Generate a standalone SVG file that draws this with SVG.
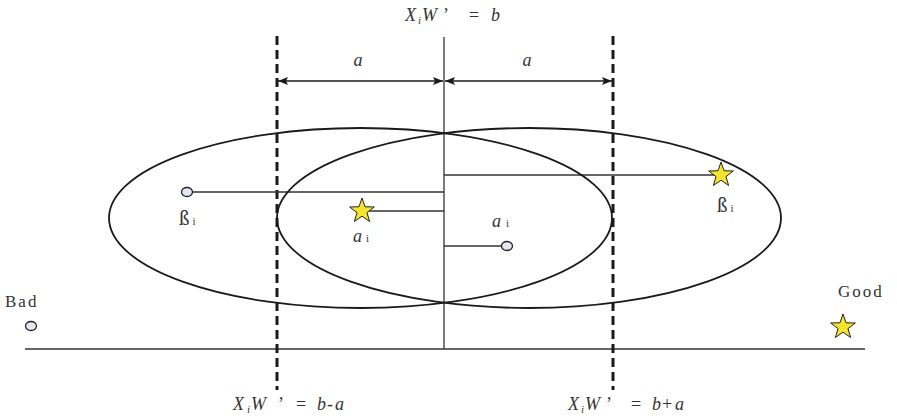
<svg xmlns="http://www.w3.org/2000/svg" width="897" height="419" viewBox="0 0 897 419">
<style>
.ln{stroke:#333;stroke-width:1.3;fill:none}
.ell{stroke:#1a1a1a;stroke-width:1.8;fill:none}
.dash{stroke:#1a1a1a;stroke-width:3;stroke-dasharray:9 5;fill:none}
.arr{stroke:#1a1a1a;stroke-width:1.3;fill:none;marker-start:url(#ah);marker-end:url(#ah)}
.t{font-family:"Liberation Serif",serif;font-size:18px;fill:#333}
.it{font-style:italic}
.beta{font-size:21px}
.lbl{font-family:"Liberation Serif",serif;font-size:17px;fill:#333;letter-spacing:2px}
.sub{font-size:11px}
.pt{fill:#e3e8f3;stroke:#222;stroke-width:1.3}
.star{fill:#f4e42c;stroke:#222;stroke-width:1}
</style>
<defs>
<marker id="ah" viewBox="0 0 10 8" refX="10" refY="4" markerWidth="10" markerHeight="8" markerUnits="userSpaceOnUse" orient="auto-start-reverse">
<path d="M0,0 L10,4 L0,8 L2,4 Z" fill="#1a1a1a"/>
</marker>
<path id="starP" d="M0,-13 L3.06,-4.21 L12.36,-4.02 L4.95,1.61 L7.64,10.52 L0,5.2 L-7.64,10.52 L-4.95,1.61 L-12.36,-4.02 L-3.06,-4.21 Z"/>
</defs>
<g id="connectors">
<line class="ln" x1="25" y1="349" x2="865" y2="349"/>
<line class="ln" x1="444" y1="37" x2="444" y2="349"/>
<line class="dash" x1="277" y1="36" x2="277" y2="390"/>
<line class="dash" x1="613" y1="36" x2="613" y2="390"/>
<line class="arr" x1="443" y1="81" x2="278" y2="81"/>
<line class="arr" x1="445" y1="81" x2="612" y2="81"/>
<line class="ln" x1="192" y1="192" x2="444" y2="192"/>
<line class="ln" x1="362" y1="211" x2="444" y2="211"/>
<line class="ln" x1="444" y1="246" x2="502" y2="246"/>
<line class="ln" x1="444" y1="175" x2="720" y2="175"/>
</g>
<g id="ellipse-left"><ellipse class="ell" cx="360.5" cy="218" rx="251.5" ry="90"/></g>
<g id="ellipse-right"><ellipse class="ell" cx="529" cy="218" rx="252" ry="90"/></g>
<g id="label-top"><text class="t" y="21"><tspan class="it" x="405">X</tspan><tspan class="it sub" x="418" y="24">i</tspan><tspan class="it" x="422" y="21">W</tspan><tspan x="443">’</tspan><tspan x="469">=</tspan><tspan class="it" x="491">b</tspan></text></g>
<g id="label-a-left"><text class="t it" x="358" y="66" text-anchor="middle">a</text></g>
<g id="label-a-right"><text class="t it" x="527" y="66" text-anchor="middle">a</text></g>
<g id="node-beta-left"><ellipse class="pt" cx="187" cy="192" rx="5.5" ry="4.5"/><text class="t" x="179" y="225"><tspan class="beta">ß</tspan><tspan class="sub" dx="3">i</tspan></text></g>
<g id="node-alpha-star"><use href="#starP" class="star" x="362" y="211"/><text class="t" x="353" y="242"><tspan class="it">a</tspan><tspan class="sub" dx="4">i</tspan></text></g>
<g id="node-alpha-circle"><ellipse class="pt" cx="507" cy="246" rx="5.5" ry="4.5"/><text class="t" x="492" y="227"><tspan class="it">a</tspan><tspan class="sub" dx="5">i</tspan></text></g>
<g id="node-beta-star"><use href="#starP" class="star" x="721" y="175"/><text class="t" x="717" y="212"><tspan class="beta">ß</tspan><tspan class="sub" dx="3">i</tspan></text></g>
<g id="node-bad"><text class="lbl" x="5" y="307">Bad</text><ellipse class="pt" cx="31" cy="326" rx="5.5" ry="4.5"/></g>
<g id="node-good"><text class="lbl" x="838" y="297">Good</text><use href="#starP" class="star" x="843" y="327"/></g>
<g id="label-bottom-left"><text class="t" y="410"><tspan class="it" x="233">X</tspan><tspan class="it sub" x="247" y="413">i</tspan><tspan class="it" x="251" y="410">W</tspan><tspan x="278">’</tspan><tspan x="296">=</tspan><tspan class="it" x="317">b</tspan><tspan x="327">-</tspan><tspan class="it" x="335">a</tspan></text></g>
<g id="label-bottom-right"><text class="t" y="410"><tspan class="it" x="568">X</tspan><tspan class="it sub" x="581" y="413">i</tspan><tspan class="it" x="585" y="410">W</tspan><tspan x="606">’</tspan><tspan x="631">=</tspan><tspan class="it" x="652">b</tspan><tspan x="662">+</tspan><tspan class="it" x="675">a</tspan></text></g>
</svg>
